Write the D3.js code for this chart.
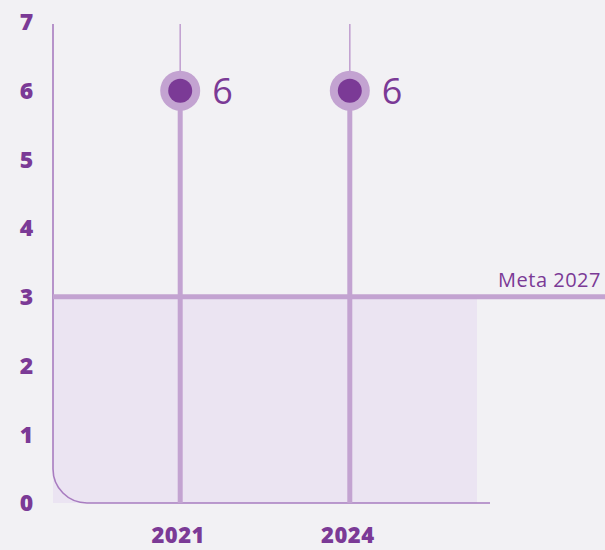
<!DOCTYPE html>
<html>
<head>
<meta charset="utf-8">
<script src="https://cdn.jsdelivr.net/npm/d3@7"></script>
<style>
  html, body { margin: 0; padding: 0; background: #f2f1f4; }
  svg { display: block; font-family: "Open Sans", Lato, sans-serif; }
</style>
</head>
<body>
<svg id="chart" width="605" height="550"></svg>
<script>
// Data
const years = ["2021", "2024"];
const values = [6, 6];
const yTicks = [0, 1, 2, 3, 4, 5, 6, 7];
const goalValue = 3;
const goalLabel = "Meta 2027";

const W = 605, H = 550;
const plotLeft = 53, plotRight = 477, plotTop = 22, plotBottom = 503;
const dark = "#7b3a96", light = "#c3a3d1", axisColor = "#a87cc0", fill = "#ebe4f2";

const svg = d3.select("#chart");

const x = d3.scalePoint().domain(years).range([plotLeft, plotRight]).padding(0.75);
const y = d3.scaleLinear().domain([0, 7]).range([plotBottom, plotTop]);

// Goal zone shading
svg.append("rect")
  .attr("x", plotLeft).attr("y", y(goalValue))
  .attr("width", plotRight - plotLeft).attr("height", y(0) - y(goalValue))
  .attr("fill", fill);

// Axis with rounded corner
const r = 34;
const axisPath = d3.path();
axisPath.moveTo(plotLeft, y(7) + 2);
axisPath.lineTo(plotLeft, y(0) - r);
axisPath.arcTo(plotLeft, y(0), plotLeft + r, y(0), r);
axisPath.lineTo(490, y(0));
svg.append("path").attr("d", axisPath.toString())
  .attr("fill", "none").attr("stroke", axisColor).attr("stroke-width", 1.6);

// Y tick labels
svg.append("g").selectAll("text").data(yTicks).join("text")
  .attr("x", 26.5).attr("y", d => y(d))
  .attr("dy", "0.36em")
  .attr("text-anchor", "middle")
  .attr("font-size", 23).attr("font-weight", 800)
  .attr("fill", dark)
  .text(d => d);

// Lollipop stems
const g = svg.append("g");
g.selectAll("line.upper").data(years).join("line")
  .attr("class", "upper")
  .attr("x1", d => x(d)).attr("x2", d => x(d))
  .attr("y1", y(7) + 2).attr("y2", (d, i) => y(values[i]))
  .attr("stroke", light).attr("stroke-width", 1.6);
g.selectAll("line.stem").data(years).join("line")
  .attr("class", "stem")
  .attr("x1", d => x(d)).attr("x2", d => x(d))
  .attr("y1", (d, i) => y(values[i])).attr("y2", y(0))
  .attr("stroke", light).attr("stroke-width", 5);

// Goal line
svg.append("line")
  .attr("x1", plotLeft).attr("x2", W)
  .attr("y1", y(goalValue)).attr("y2", y(goalValue))
  .attr("stroke", light).attr("stroke-width", 5);
svg.append("text")
  .attr("x", 601).attr("y", y(goalValue) - 10)
  .attr("text-anchor", "end")
  .attr("font-size", 20).attr("font-weight", 500)
  .attr("letter-spacing", 0.5)
  .attr("fill", dark)
  .text(goalLabel);

// Points
g.selectAll("circle.halo").data(years).join("circle")
  .attr("class", "halo")
  .attr("cx", d => x(d)).attr("cy", (d, i) => y(values[i]))
  .attr("r", 20).attr("fill", light);
g.selectAll("circle.dot").data(years).join("circle")
  .attr("class", "dot")
  .attr("cx", d => x(d)).attr("cy", (d, i) => y(values[i]))
  .attr("r", 12).attr("fill", dark);

// Value labels
g.selectAll("text.val").data(years).join("text")
  .attr("class", "val")
  .attr("x", d => x(d) + 32).attr("y", (d, i) => y(values[i]))
  .attr("dy", "0.36em")
  .attr("font-size", 36).attr("font-weight", 400)
  .attr("fill", dark)
  .text((d, i) => values[i]);

// X labels
svg.append("g").selectAll("text").data(years).join("text")
  .attr("x", d => x(d) - 2).attr("y", 543)
  .attr("text-anchor", "middle")
  .attr("font-size", 22).attr("font-weight", 800)
  .attr("letter-spacing", 0.5)
  .attr("fill", dark)
  .text(d => d);
</script>
</body>
</html>
